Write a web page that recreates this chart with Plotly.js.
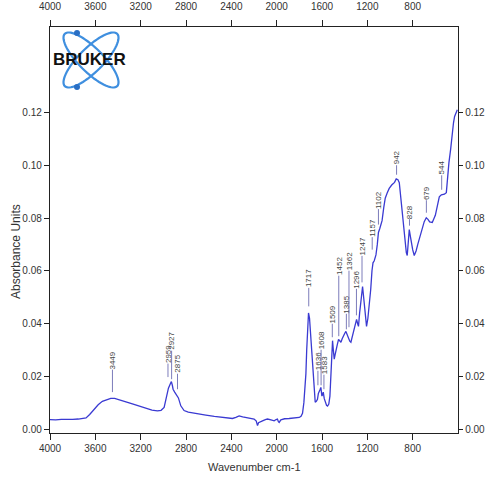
<!DOCTYPE html>
<html><head><meta charset="utf-8">
<script src="https://cdn.plot.ly/plotly-3.0.1.min.js"></script>
<style>html,body{margin:0;padding:0;background:#fff}#chart{width:485px;height:485px}</style>
</head><body><div id="chart"></div>
<script>
const wavenumber = [4000,3950,3900,3850,3800,3750,3700,3682,3650,3611,3575,3538,3500,3464,3430,3391,3330,3273,3210,3155,3100,3052,3020,2993,2975,2964,2955,2940,2929,2920,2914,2900,2890,2875,2867,2846,2817,2780,2744,2700,2625,2550,2479,2420,2390,2360,2331,2300,2272,2228,2199,2180,2169,2160,2145,2125,2100,2081,2050,2022,2005,1993,1985,1978,1963,1930,1890,1850,1801,1785,1772,1760,1750,1742,1735,1728,1719,1710,1698,1688,1678,1668,1660,1650,1640,1632,1625,1617,1610,1601,1595,1589,1580,1572,1560,1551,1540,1530,1522,1516,1507,1500,1492,1485,1477,1465,1454,1443,1433,1422,1413,1400,1389,1378,1366,1355,1345,1335,1324,1310,1295,1286,1278,1268,1257,1248,1242,1235,1227,1217,1207,1195,1183,1170,1159,1150,1139,1124,1112,1102,1090,1070,1055,1042,1025,1007,985,960,945,930,918,905,892,875,856,848,838,830,822,812,800,786,770,755,742,720,698,680,665,650,636,627,600,580,565,547,520,503,494,480,465,459,450,440,430,415,406];
const absorbance = [0.0036,0.0035,0.0037,0.0036,0.0037,0.0038,0.0040,0.0042,0.0055,0.0076,0.0092,0.0105,0.0112,0.0116,0.0116,0.0112,0.0103,0.0095,0.0086,0.0078,0.0072,0.0069,0.0071,0.0082,0.0115,0.0140,0.0155,0.0170,0.0180,0.0165,0.0151,0.0140,0.0132,0.0125,0.0118,0.0088,0.0070,0.0064,0.0062,0.0058,0.0053,0.0048,0.0044,0.0041,0.0040,0.0044,0.0050,0.0046,0.0044,0.0038,0.0038,0.0030,0.0013,0.0024,0.0028,0.0031,0.0036,0.0038,0.0035,0.0031,0.0036,0.0038,0.0028,0.0025,0.0035,0.0039,0.0040,0.0042,0.0044,0.0048,0.0060,0.0100,0.0150,0.0210,0.0300,0.0400,0.0440,0.0420,0.0340,0.0260,0.0189,0.0130,0.0102,0.0105,0.0113,0.0135,0.0140,0.0150,0.0158,0.0125,0.0130,0.0140,0.0115,0.0102,0.0090,0.0087,0.0095,0.0125,0.0200,0.0302,0.0335,0.0300,0.0265,0.0280,0.0302,0.0320,0.0340,0.0335,0.0329,0.0342,0.0352,0.0362,0.0370,0.0355,0.0340,0.0333,0.0329,0.0345,0.0367,0.0395,0.0416,0.0400,0.0389,0.0440,0.0491,0.0530,0.0540,0.0510,0.0465,0.0420,0.0389,0.0420,0.0465,0.0530,0.0600,0.0630,0.0638,0.0660,0.0700,0.0745,0.0760,0.0790,0.0840,0.0875,0.0895,0.0912,0.0925,0.0935,0.0948,0.0945,0.0934,0.0880,0.0805,0.0740,0.0669,0.0658,0.0700,0.0756,0.0735,0.0707,0.0680,0.0658,0.0675,0.0700,0.0718,0.0755,0.0786,0.0801,0.0795,0.0785,0.0782,0.0783,0.0810,0.0850,0.0880,0.0888,0.0890,0.0896,0.0945,0.1010,0.1060,0.1085,0.1134,0.1160,0.1185,0.1205,0.1210];

const xTickVals = [4000,3600,3200,2800,2400,2000,1600,1200,800];
const yTickVals = [0.00,0.02,0.04,0.06,0.08,0.10,0.12];

const peakLabels = ['3449','2959','2927','2875','1717','1636','1608','1583','1509','1452','1385','1362','1296','1247','1157','1102','942','828','679','544'];
const peakWn = [3449,2959,2927,2875,1717,1636,1608,1583,1509,1452,1385,1362,1296,1247,1157,1102,942,828,679,544];
const peakMarkBase = [0.0140,0.0197,0.0189,0.0151,0.0465,0.0166,0.0166,0.0151,0.0348,0.0352,0.0378,0.0386,0.0431,0.0556,0.0680,0.0775,0.0964,0.0771,0.0820,0.0907];
const labelOffsetPx = [-32,-23,-38,-25,-28,-24,-45,-24,-23,-70,-25,-66,-36,-36,-22,-25,-17,-14,-20,-22];

const xTitle = 'Wavenumber cm-1';
const yTitle = 'Absorbance Units';
const logoText = 'BRUKER';

// geometry of the plot area in pixels (for the logo decoration)
const L = 50, T = 27, W = 408, H = 406;
const px = v => (v - L) / W;
const py = v => (T + H - v) / H;

function ellipsePath(cx, cy, a, b, ang) {
  const c = Math.cos(ang), s = Math.sin(ang);
  let d = '';
  for (let i = 0; i <= 72; i++) {
    const t = i / 72 * 2 * Math.PI;
    const ex = a * Math.cos(t), ey = b * Math.sin(t);
    const X = cx + ex * c - ey * s, Y = cy + ex * s + ey * c;
    d += (i === 0 ? 'M' : 'L') + px(X).toFixed(4) + ',' + py(Y).toFixed(4);
  }
  return d + 'Z';
}

const logoBlue = '#3f8fdf';
const shapes = [
  {type: 'path', xref: 'paper', yref: 'paper', path: ellipsePath(91, 60, 37, 12, Math.PI / 4), line: {color: logoBlue, width: 2.2}},
  {type: 'path', xref: 'paper', yref: 'paper', path: ellipsePath(91, 60, 37, 12, -Math.PI / 4), line: {color: logoBlue, width: 2.2}},
  {type: 'circle', xref: 'paper', yref: 'paper', x0: px(74), x1: px(80), y0: py(30), y1: py(36), fillcolor: '#2a6fc4', line: {width: 0}},
  {type: 'circle', xref: 'paper', yref: 'paper', x0: px(74), x1: px(80), y0: py(84), y1: py(90), fillcolor: '#2a6fc4', line: {width: 0}}
];

const labelFont = {family: 'Liberation Sans, Arial, sans-serif', size: 8, color: '#444'};
const annotations = peakLabels.map((t, i) => ({
  x: peakWn[i], y: peakMarkBase[i], xref: 'x', yref: 'y',
  text: t, textangle: -90, font: labelFont,
  showarrow: true, arrowhead: 0, arrowwidth: 0.8, arrowcolor: '#5a5aa8',
  ax: 0, ay: labelOffsetPx[i], borderpad: 0, standoff: 0
}));
annotations.push({
  xref: 'paper', yref: 'paper', x: px(89), y: py(60), text: '<b>' + logoText + '</b>',
  showarrow: false, font: {family: 'Liberation Sans, Arial, sans-serif', size: 17, color: '#111'},
  xanchor: 'center', yanchor: 'middle'
});
annotations.push({
  xref: 'paper', yref: 'paper', x: px(254), y: py(467), text: xTitle, showarrow: false,
  font: {family: 'Liberation Sans Narrow, Liberation Sans, Arial, sans-serif', size: 11, color: '#333'},
  xanchor: 'center', yanchor: 'middle'
});
annotations.push({
  xref: 'paper', yref: 'paper', x: px(16), y: py(252), text: yTitle, showarrow: false, textangle: -90,
  font: {family: 'Liberation Sans, Arial, sans-serif', size: 12, color: '#333'},
  xanchor: 'center', yanchor: 'middle'
});

const tickFontX = {family: 'Liberation Sans Narrow, Liberation Sans, Arial, sans-serif', size: 10, color: '#333'};
const tickFontY = {family: 'Liberation Sans, Arial, sans-serif', size: 10, color: '#333'};
const xr = [4000, 400], yr = [-0.0015, 0.1524];

const xCommon = {range: xr, tickvals: xTickVals, ticks: 'outside', ticklen: 6, tickwidth: 1, tickcolor: '#222',
  showline: true, linecolor: '#222', linewidth: 1.2, showgrid: false, zeroline: false, tickfont: tickFontX, fixedrange: true};
const yCommon = {range: yr, tickvals: yTickVals, tickformat: '.2f', ticks: 'outside', ticklen: 5, tickwidth: 1, tickcolor: '#222',
  showline: true, linecolor: '#222', linewidth: 1.2, showgrid: false, zeroline: false, tickfont: tickFontY, fixedrange: true};

const data = [
  {x: wavenumber, y: absorbance, type: 'scatter', mode: 'lines', line: {color: '#3a3ad2', width: 1.3}, hoverinfo: 'skip'},
  {x: wavenumber, y: absorbance, type: 'scatter', mode: 'lines', xaxis: 'x2', yaxis: 'y2', line: {color: 'rgba(0,0,0,0)', width: 0}, hoverinfo: 'skip'}
];

const layout = {
  width: 485, height: 485,
  margin: {l: L, r: 485 - L - W, t: T, b: 485 - T - H, pad: 0},
  paper_bgcolor: '#fff', plot_bgcolor: '#fff', showlegend: false,
  xaxis: Object.assign({}, xCommon, {side: 'bottom'}),
  xaxis2: Object.assign({}, xCommon, {side: 'top', overlaying: 'x', ticklabelstandoff: 6}),
  yaxis: Object.assign({}, yCommon, {side: 'left'}),
  yaxis2: Object.assign({}, yCommon, {side: 'right', overlaying: 'y', ticklen: 4}),
  shapes: shapes, annotations: annotations
};

Plotly.newPlot('chart', data, layout, {staticPlot: true, displayModeBar: false});
</script>
</body></html>
